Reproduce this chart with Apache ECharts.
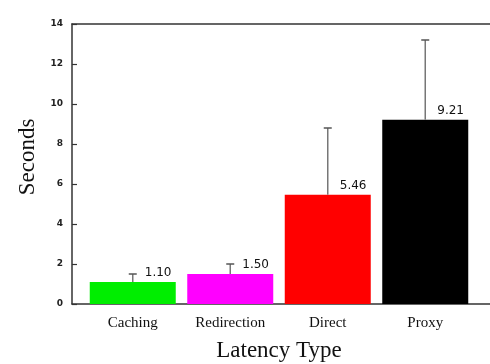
<!DOCTYPE html>
<html><head><meta charset="utf-8">
<script src="https://cdn.jsdelivr.net/npm/echarts@6/dist/echarts.min.js"></script>
<style>html,body{margin:0;padding:0;background:#fff}#c{width:490px;height:364px}</style>
</head><body><div id="c"></div>
<script>
const categories = ['Caching', 'Redirection', 'Direct', 'Proxy'];
const means = [1.10, 1.50, 5.46, 9.21];
const errorTops = [1.5, 2.0, 8.8, 13.2];
const barColors = ['#00ee00', '#ff00ff', '#ff0000', '#000000'];
const yTicks = [0, 2, 4, 6, 8, 10, 12, 14];

const chart = echarts.init(document.getElementById('c'), null, {renderer: 'canvas'});
const axisColor = '#333';
chart.setOption({
  backgroundColor: '#fff',
  animation: false,
  grid: [
    {left: 72, right: 0, top: 24, bottom: 60, containLabel: false, outerBoundsMode: 'none'},
    {left: 84, right: 16, top: 24, bottom: 60, containLabel: false, outerBoundsMode: 'none'}
  ],
  xAxis: [
    {type: 'value', gridIndex: 0, position: 'bottom', min: 0, max: 1,
     axisLine: {show: true, onZero: false, lineStyle: {color: axisColor, width: 1.5}},
     axisTick: {show: false}, axisLabel: {show: false}, splitLine: {show: false}},
    {type: 'value', gridIndex: 0, position: 'top', min: 0, max: 1,
     axisLine: {show: true, onZero: false, lineStyle: {color: axisColor, width: 1.5}},
     axisTick: {show: false}, axisLabel: {show: false}, splitLine: {show: false}},
    {type: 'category', gridIndex: 1, data: categories,
     axisLine: {show: false}, axisTick: {show: false},
     axisLabel: {margin: 12, color: '#111', fontFamily: 'Liberation Serif', fontSize: 15},
     name: 'Latency Type', nameLocation: 'middle', nameGap: 35,
     nameTextStyle: {fontFamily: 'Liberation Serif', fontSize: 23, color: '#111'}}
  ],
  yAxis: [
    {type: 'value', gridIndex: 0, min: 0, max: 14, interval: 2,
     axisLine: {show: true, onZero: false, lineStyle: {color: axisColor, width: 1.5}},
     axisTick: {show: true, inside: true, length: 5, lineStyle: {color: axisColor, width: 1.2}},
     axisLabel: {margin: 9, color: '#222', fontFamily: 'DejaVu Sans', fontSize: 9, fontWeight: 'bold',
                 formatter: v => yTicks.includes(v) ? String(v) : ''},
     splitLine: {show: false},
     name: 'Seconds', nameLocation: 'middle', nameGap: 32,
     nameTextStyle: {fontFamily: 'Liberation Serif', fontSize: 23, color: '#111', padding: [0, 0, 0, 14]}},
    {type: 'value', gridIndex: 1, min: 0, max: 14, interval: 2, show: false}
  ],
  series: [
    {type: 'bar', xAxisIndex: 2, yAxisIndex: 1, barWidth: 86,
     data: means.map((v, i) => ({value: v, itemStyle: {color: barColors[i]}})),
     label: {show: true, position: ['64%', -15], formatter: p => p.value.toFixed(2),
             fontFamily: 'DejaVu Sans', fontSize: 12, color: '#111'}},
    {type: 'custom', xAxisIndex: 2, yAxisIndex: 1, z: 3,
     data: means.map((v, i) => [i, v, errorTops[i]]),
     renderItem: function (params, api) {
       const base = api.coord([api.value(0), api.value(1)]);
       const top = api.coord([api.value(0), api.value(2)]);
       const s = {stroke: '#777', lineWidth: 1.5};
       return {type: 'group', children: [
         {type: 'line', shape: {x1: base[0], y1: base[1], x2: top[0], y2: top[1]}, style: s},
         {type: 'line', shape: {x1: top[0] - 4, y1: top[1], x2: top[0] + 4, y2: top[1]}, style: {stroke: '#555', lineWidth: 1.5}}
       ]};
     }}
  ]
});
</script></body></html>
